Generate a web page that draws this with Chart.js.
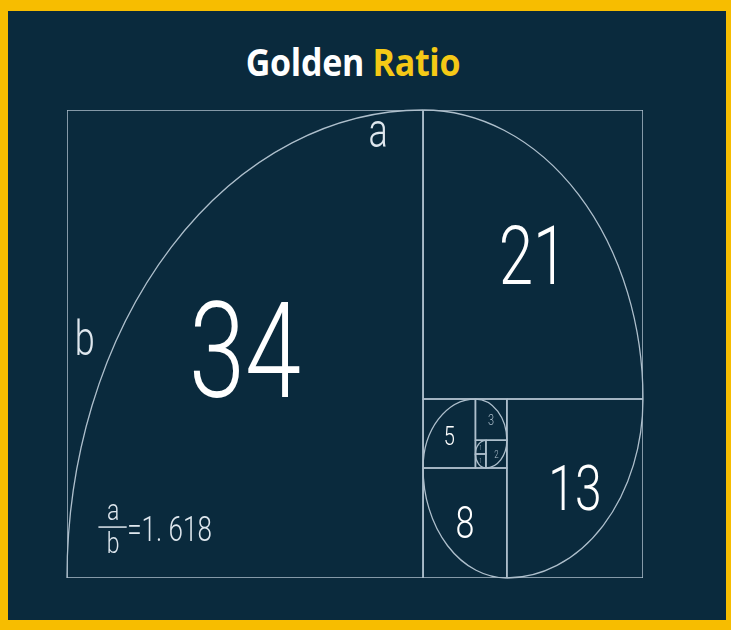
<!DOCTYPE html>
<html>
<head>
<meta charset="utf-8">
<script src="https://cdn.jsdelivr.net/npm/chart.js@4"></script>
<style>
  html, body { margin: 0; padding: 0; }
  body { width: 731px; height: 630px; background: #f7bd00; position: relative; overflow: hidden; }
  #panel { position: absolute; left: 8px; top: 11px; width: 718px; height: 609px; background: #0a2a3d; }
  #title { position: absolute; left: 0; top: 38px; width: 706px; text-align: center;
           font-family: "Open Sans", sans-serif; font-weight: 700; font-size: 34px; color: #ffffff;
           transform: scaleY(1.12); letter-spacing: -0.3px; }
  #title span { color: #f5c916; }
  #wrap { position: absolute; left: 0; top: 0; width: 731px; height: 630px; }
</style>
</head>
<body>
<div id="panel"></div>
<div id="title">Golden <span>Ratio</span></div>
<div id="wrap"><canvas id="myChart" width="731" height="630"></canvas></div>
<script>
// fibonacci tiling, units of the smallest square, y counted from the top
const squareSizes = [34, 21, 13, 8, 5, 3, 2, 1, 1];
const squareLeft  = [0, 34, 42, 34, 34, 39, 40, 39, 39];
const squareTop   = [0, 0, 21, 26, 21, 21, 24, 25, 24];
const squareLabels = ['34', '21', '13', '8', '5', '3', '2', '1', '1'];
// corner of each square the spiral turns around
const spiralCorners = ['br', 'bl', 'tl', 'tr', 'br', 'bl', 'tl', 'tr', 'br'];

const ratioText = '=1. 618';

const lineColor = '#aebfcc';
const stretch = 1.314; // picture is stretched vertically

const datasets = squareSizes.map(function(s, i) {
    const x0 = squareLeft[i], y0 = squareTop[i];
    return {
        label: squareLabels[i],
        data: [
            {x: x0, y: y0}, {x: x0 + s, y: y0}, {x: x0 + s, y: y0 + s},
            {x: x0, y: y0 + s}, {x: x0, y: y0}
        ],
        showLine: true,
        borderColor: lineColor,
        borderWidth: 1.5,
        pointRadius: 0,
        fill: false
    };
});

// draws text centred on its cap height, stretched like the picture
function drawText(ctx, txt, px, py, size, align) {
    ctx.save();
    ctx.translate(px, py);
    ctx.scale(1, stretch);
    ctx.font = '300 ' + size + 'px Roboto, "Open Sans", sans-serif';
    ctx.textAlign = align || 'center';
    ctx.textBaseline = 'alphabetic';
    ctx.fillText(txt, 0, size * 0.355);
    ctx.restore();
}

const spiralPlugin = {
    id: 'spiral',
    afterDatasetsDraw(c) {
        const ctx = c.ctx, xs = c.scales.x, ys = c.scales.y;
        const ux = xs.getPixelForValue(1) - xs.getPixelForValue(0);
        const uy = ys.getPixelForValue(1) - ys.getPixelForValue(0);
        ctx.save();
        ctx.strokeStyle = lineColor;
        ctx.lineWidth = 1.3;
        squareSizes.forEach(function(s, i) {
            const k = spiralCorners[i];
            const cx = squareLeft[i] + (k[1] === 'r' ? s : 0);
            const cy = squareTop[i] + (k[0] === 'b' ? s : 0);
            const a0 = Math.PI + i * Math.PI / 2;
            ctx.beginPath();
            ctx.ellipse(xs.getPixelForValue(cx), ys.getPixelForValue(cy), s * ux, s * uy, 0, a0, a0 + Math.PI / 2);
            ctx.stroke();
        });

        const fontFor = {34: 101, 21: 62, 13: 48, 8: 34, 5: 20, 3: 11, 2: 8, 1: 5};
        const nudge = {34: 6, 21: 1, 13: -1, 8: -1, 5: 2, 3: 0, 2: 0, 1: 0};
        squareSizes.forEach(function(s, i) {
            const px = xs.getPixelForValue(squareLeft[i] + s / 2);
            const py = ys.getPixelForValue(squareTop[i] + s / 2) + nudge[s];
            ctx.fillStyle = s >= 5 ? '#ffffff' : lineColor;
            drawText(ctx, squareLabels[i], px, py, fontFor[s]);
        });

        ctx.fillStyle = '#dfe7ee';
        drawText(ctx, 'a', xs.getPixelForValue(29.7), ys.getPixelForValue(1.5), 36);
        drawText(ctx, 'b', xs.getPixelForValue(1.7), ys.getPixelForValue(16.6), 36);

        // a / b = 1.618
        drawText(ctx, 'a', xs.getPixelForValue(4.4), ys.getPixelForValue(29.0), 23);
        drawText(ctx, 'b', xs.getPixelForValue(4.4), ys.getPixelForValue(31.4), 23);
        ctx.strokeStyle = '#dfe7ee';
        ctx.lineWidth = 1.5;
        ctx.beginPath();
        ctx.moveTo(xs.getPixelForValue(3.0), ys.getPixelForValue(30.3));
        ctx.lineTo(xs.getPixelForValue(5.7), ys.getPixelForValue(30.3));
        ctx.stroke();
        drawText(ctx, ratioText, xs.getPixelForValue(5.75), ys.getPixelForValue(30.4), 26, 'left');
        ctx.restore();
    }
};

const ctx = document.getElementById('myChart').getContext('2d');
const chart = new Chart(ctx, {
    type: 'scatter',
    data: { datasets: datasets },
    options: {
        responsive: false,
        animation: false,
        layout: { padding: { left: 67, right: 88, top: 110, bottom: 52 } },
        plugins: { legend: { display: false }, tooltip: { enabled: false } },
        scales: {
            x: { display: false, min: 0, max: 55 },
            y: { display: false, min: 0, max: 34, reverse: true }
        }
    },
    plugins: [spiralPlugin]
});
</script>
</body>
</html>
